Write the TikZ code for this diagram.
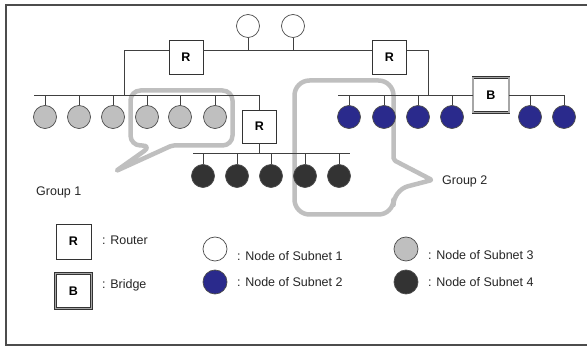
\documentclass[tikz,border=0pt]{standalone}
\usepackage{fontspec}
\setmainfont{Liberation Sans}
\begin{document}
\begin{tikzpicture}[x=1pt,y=-1pt,
  line/.style={draw=black!75,line width=0.8pt},
  frame/.style={draw=black!70,line width=1.6pt},
  bubble/.style={draw=black!25,line width=4.5pt,line join=round},
  nd/.style={circle,draw=black!70,line width=0.7pt,minimum size=23pt,inner sep=0pt},
  wnode/.style={nd,fill=white},
  gnode/.style={nd,fill=black!25},
  bnode/.style={nd,fill={rgb,255:red,42;green,42;blue,140}},
  dnode/.style={nd,fill=black!80},
  router/.style={draw=black!80,line width=0.8pt,fill=white,minimum width=34pt,minimum height=34pt,inner sep=0pt,font=\fontsize{12.5}{14}\selectfont\bfseries},
  bridge/.style={draw=black!80,double=black!35,double distance=1.4pt,line width=0.7pt,fill=white,minimum width=36pt,minimum height=35pt,inner sep=0pt,font=\fontsize{12.5}{14}\selectfont\bfseries},
  lbl/.style={anchor=west,inner sep=0pt,text=black!85,font=\fontsize{12.5}{14}\selectfont}
]
\useasboundingbox (0,0) rectangle (587,347);
\fill[white] (0,0) rectangle (587,347);
\draw[frame] (587,5) -- (6,5) -- (6,345) -- (587,345);

% speech bubbles
\draw[bubble,rounded corners=10pt] (200,145.5) -- (232.5,145.5) -- (232.5,90.5) -- (130.5,90.5) -- (130.5,145.5) -- (152,145.5) [rounded corners=2pt] -- (116,171) -- (172,145.5) -- cycle;
\draw[bubble,rounded corners=15pt] (393.5,120) -- (393.5,80.5) -- (294.5,80.5) -- (294.5,214.5) -- (393.5,214.5) -- (393.5,190) [rounded corners=2pt] -- (432,180) -- (393.5,160) -- cycle;

% routers and bridge
\node[router] (R1) at (186,57) {R};
\node[router] (R2) at (389.5,57) {R};
\node[router,minimum height=33pt] (R3) at (259.5,126.5) {R};
\node[bridge] (B) at (491,95) {B};

% bus coordinates
\coordinate (tbus) at (0,50);
\coordinate (lJ) at (124,95);
\coordinate (rJ) at (428,95);
\coordinate (lbL) at (34,95);
\coordinate (lbR) at (259.5,95);
\coordinate (rbL) at (338,95);
\coordinate (bR) at (564,95);
\coordinate (bbL) at (193,153);
\coordinate (bbR) at (350,153);

% top subnet (subnet 1)
\draw[line] ([yshift=7pt]R1.east) -- ([yshift=7pt]R2.west);
\draw[line] ([yshift=7pt]R1.west) -| (lJ);
\draw[line] ([yshift=7pt]R2.east) -| (rJ);
\foreach \x [count=\i] in {248,293}{
  \node[wnode] (w\i) at (\x,26) {};
  \draw[line] (w\i.south) -- (w\i.south |- tbus);
}

% left subnet (subnet 3)
\draw[line] (lbL) -- (lbR) -- (R3.north);
\foreach \x [count=\i] in {45,79,113,147,180,215}{
  \node[gnode] (g\i) at (\x,117) {};
  \draw[line] (g\i.north) -- (g\i.north |- lbL);
}

% right subnet (subnet 2)
\draw[line] (rbL) -- (B.west);
\draw[line] (B.east) -- (bR);
\foreach \x [count=\i] in {349,384,418,452,530,564}{
  \node[bnode] (b\i) at (\x,117) {};
  \draw[line] (b\i.north) -- (b\i.north |- rbL);
}

% bottom subnet (subnet 4)
\draw[line] (bbL) -- (bbR);
\draw[line] (R3.south) -- (R3.south |- bbL);
\foreach \x [count=\i] in {203,237,271,305,339}{
  \node[dnode] (d\i) at (\x,176) {};
  \draw[line] (d\i.north) -- (d\i.north |- bbL);
}

% group labels
\node[lbl] (G1) at (36,192) {Group 1};
\node[lbl] (G2) at (442,181) {Group 2};

% legend
\node[router,minimum width=35pt,minimum height=35pt] (LR) at (73.5,241.5) {R};
\node[lbl] (LRt) at (102,240) {: Router};
\node[bridge] (LB) at (73.5,291) {B};
\node[lbl] (LBt) at (102,285) {: Bridge};
\node[wnode,minimum size=24pt] (L1) at (215,249) {};
\node[lbl] (L1t) at (237,256) {: Node of Subnet 1};
\node[bnode,minimum size=24pt] (L2) at (215,282) {};
\node[lbl] (L2t) at (237,282) {: Node of Subnet 2};
\node[gnode,minimum size=24pt] (L3) at (406,249) {};
\node[lbl] (L3t) at (428,255) {: Node of Subnet 3};
\node[dnode,minimum size=24pt] (L4) at (406,282) {};
\node[lbl] (L4t) at (428,282) {: Node of Subnet 4};
\end{tikzpicture}
\end{document}
